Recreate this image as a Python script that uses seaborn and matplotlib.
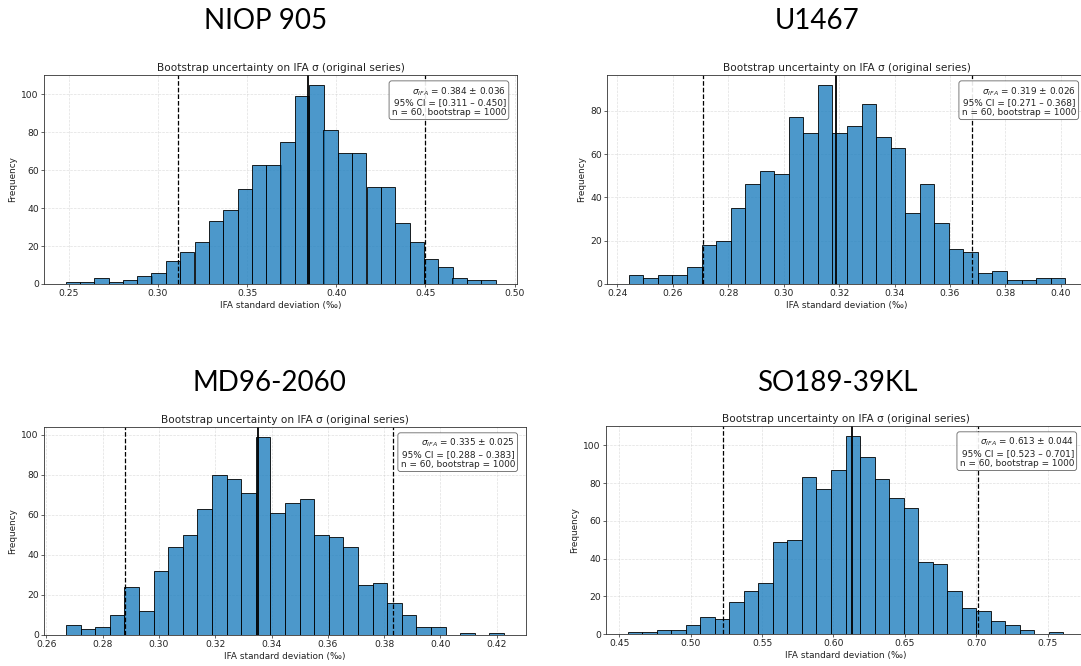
import numpy as np
import pandas as pd
import matplotlib
matplotlib.use("Agg")
import matplotlib.pyplot as plt
import seaborn as sns

# core names (big slide titles)
cores = ["NIOP 905", "U1467", "MD96-2060", "SO189-39KL"]

# bootstrap histogram counts, 30 bins each
counts_niop = [1, 1, 3, 1, 2, 4, 6, 12, 17, 22, 33, 39, 50, 63, 63,
               75, 99, 105, 81, 69, 69, 51, 51, 32, 22, 13, 9, 3, 2, 2]
counts_u1467 = [4, 3, 4, 4, 8, 18, 20, 35, 46, 52, 51, 77, 70, 92, 70,
                73, 83, 68, 63, 33, 46, 28, 16, 15, 5, 6, 2, 2, 3, 3]
counts_md96 = [5, 3, 4, 10, 24, 12, 32, 44, 50, 63, 80, 78, 71, 99, 61,
               66, 68, 50, 49, 44, 25, 26, 16, 10, 4, 4, 0, 1, 0, 1]
counts_so189 = [1, 1, 2, 2, 5, 9, 8, 17, 23, 27, 49, 50, 83, 77, 87,
                105, 94, 82, 72, 67, 38, 37, 23, 14, 12, 7, 5, 2, 0, 1]

# histogram range (min, max of bootstrap sigma)
ranges = [(0.2481, 0.4893), (0.2441, 0.4016), (0.2669, 0.4226), (0.4560, 0.7609)]

# mean, std, CI bounds
means = [0.384, 0.319, 0.335, 0.613]
stds = [0.036, 0.026, 0.025, 0.044]
ci_lo = [0.311, 0.271, 0.288, 0.523]
ci_hi = [0.450, 0.368, 0.383, 0.701]

all_counts = [counts_niop, counts_u1467, counts_md96, counts_so189]

sns.set_style("white")
plt.rcParams['font.family'] = ['DejaVu Sans']
plt.rcParams['text.color'] = '#222222'
plt.rcParams['axes.labelcolor'] = '#222222'
plt.rcParams['xtick.color'] = '#222222'
plt.rcParams['ytick.color'] = '#222222'

W, H = 1081, 666
fig = plt.figure(figsize=(W / 100, H / 100), dpi=100)

# axes boxes in pixels: left, right, top, bottom (screenshots pasted on a slide)
boxes = [(44, 517, 75, 284), (607, 1087, 75, 284),
         (44, 526, 427, 635), (606, 1085, 426, 634)]
title_pos = [(266, 21), (817, 21), (269, 383), (837, 383)]

for i in range(4):
    l, r, t, b = boxes[i]
    ax = fig.add_axes([l / W, 1 - b / H, (r - l) / W, (b - t) / H])
    lo, hi = ranges[i]
    step = (hi - lo) / 30
    centers = lo + step * (np.arange(30) + 0.5)
    df = pd.DataFrame({"sigma": centers, "n": all_counts[i]})
    sns.histplot(data=df, x="sigma", weights="n", bins=30, binrange=(lo, hi), ax=ax,
                 color="#1f7fbf", alpha=0.8, edgecolor="black", linewidth=0.6)
    ax.axvline(means[i], color="black", lw=1.3)
    ax.axvline(ci_lo[i], color="black", lw=0.9, ls="--")
    ax.axvline(ci_hi[i], color="black", lw=0.9, ls="--")
    ax.set_title("Bootstrap uncertainty on IFA σ (original series)", fontsize=7.6, pad=3)
    ax.set_xlabel("IFA standard deviation (‰)", fontsize=6.4, labelpad=2)
    ax.set_ylabel("Frequency", fontsize=6.4, labelpad=3)
    ax.tick_params(labelsize=6.6, length=2.2, width=0.5, pad=1.5, left=True, bottom=True)
    ax.grid(True, ls="--", lw=0.5, color="#cccccc", alpha=0.6)
    ax.set_axisbelow(True)
    for s in ax.spines.values():
        s.set_linewidth(0.6)
        s.set_color("#333333")
    txt = (f"$\\sigma_{{IFA}}$ = {means[i]:.3f} ± {stds[i]:.3f}\n"
           f"95% CI = [{ci_lo[i]:.3f} – {ci_hi[i]:.3f}]\n"
           f"n = 60, bootstrap = 1000")
    ax.text(0.977, 0.952, txt, transform=ax.transAxes, ha="right", va="top",
            fontsize=6.4, linespacing=1.1,
            bbox=dict(boxstyle="round,pad=0.3", fc="white", ec="#555555", lw=0.6, alpha=0.9))
    fig.text(title_pos[i][0] / W, 1 - title_pos[i][1] / H, cores[i],
             fontsize=20, family="Lato", color="black", ha="center", va="center")

fig.savefig("out.png", dpi=100)
